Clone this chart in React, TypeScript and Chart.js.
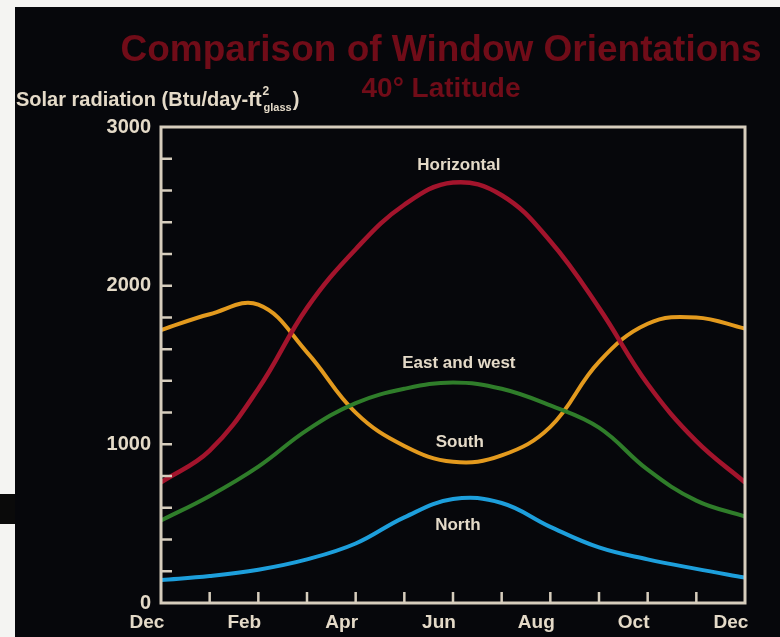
import React, { useEffect, useRef } from "react";
import { Chart, registerables } from "chart.js";

Chart.register(...registerables);

const monthLabels = ["Dec", "Jan", "Feb", "Mar", "Apr", "May", "Jun", "Jul", "Aug", "Sep", "Oct", "Nov", "Dec"];
const monthIndex = [0, 1, 2, 3, 4, 5, 6, 7, 8, 9, 10, 11, 12];

const horizontal = [760, 960, 1350, 1860, 2230, 2510, 2650, 2570, 2280, 1860, 1380, 1020, 760];
const south = [1720, 1820, 1880, 1580, 1200, 990, 890, 930, 1110, 1520, 1760, 1800, 1730];
const eastWest = [520, 675, 860, 1090, 1260, 1350, 1390, 1350, 1245, 1105, 840, 645, 545];
const north = [145, 170, 210, 275, 375, 540, 655, 630, 480, 350, 275, 215, 160];

const seriesNames = ["Horizontal", "East and west", "South", "North"];
const seriesColors = ["#a3142c", "#2f7d2a", "#e39a1e", "#1d9fdc"];
// label anchors in data coordinates [month, value]
const labelAnchors: [number, number][] = [
  [6.12, 2760],
  [6.12, 1510],
  [6.14, 1010],
  [6.1, 490],
];

const titleText = "Comparison of Window Orientations";
const subtitleText = "40\u00b0 Latitude";

const CREAM = "#e4dac8";
const FRAME = "#d6cdbd";
const TITLE_RED = "#700c18";
const FONT = '"Liberation Sans", Arial, sans-serif';

const decor = {
  id: "decor",
  afterDatasetsDraw(chart: any) {
    const { ctx, chartArea: ca, scales } = chart;
    const xs = scales.x;
    const ys = scales.y;
    ctx.save();
    ctx.strokeStyle = FRAME;
    ctx.lineWidth = 3;
    ctx.strokeRect(ca.left, ca.top, ca.right - ca.left, ca.bottom - ca.top);
    ctx.lineWidth = 2.5;
    ctx.beginPath();
    for (let v = 200; v < 3000; v += 200) {
      const py = ys.getPixelForValue(v);
      ctx.moveTo(ca.left, py);
      ctx.lineTo(ca.left + 11, py);
    }
    for (let i = 1; i < 12; i++) {
      const px = xs.getPixelForValue(i);
      ctx.moveTo(px, ca.bottom);
      ctx.lineTo(px, ca.bottom - 11);
    }
    ctx.stroke();
    ctx.restore();
  },
  afterDraw(chart: any) {
    const { ctx, scales } = chart;
    const xs = scales.x;
    const ys = scales.y;
    ctx.save();
    // title
    ctx.fillStyle = TITLE_RED;
    ctx.textAlign = "center";
    ctx.textBaseline = "middle";
    ctx.font = `bold 37px ${FONT}`;
    ctx.fillText(titleText, 426, 44);
    ctx.font = `bold 28px ${FONT}`;
    ctx.fillText(subtitleText, 426, 82);
    // y axis label
    ctx.fillStyle = CREAM;
    ctx.textAlign = "left";
    ctx.textBaseline = "alphabetic";
    const base = 99;
    let x = 1;
    ctx.font = `bold 20px ${FONT}`;
    const part1 = "Solar radiation (Btu/day-ft";
    ctx.fillText(part1, x, base);
    x += ctx.measureText(part1).width + 1;
    ctx.font = `bold 12px ${FONT}`;
    ctx.fillText("2", x, base - 11);
    ctx.font = `bold 11px ${FONT}`;
    ctx.fillText("glass", x + 1, base + 5);
    x += ctx.measureText("glass").width + 2;
    ctx.font = `bold 20px ${FONT}`;
    ctx.fillText(")", x, base);
    // curve labels
    ctx.textAlign = "center";
    ctx.textBaseline = "middle";
    ctx.font = `bold 17px ${FONT}`;
    seriesNames.forEach((name, i) => {
      const [mx, vy] = labelAnchors[i];
      ctx.fillText(name, xs.getPixelForValue(mx), ys.getPixelForValue(vy));
    });
    ctx.restore();
  },
};

export default function App() {
  const canvasRef = useRef<HTMLCanvasElement | null>(null);

  useEffect(() => {
    const canvas = canvasRef.current;
    if (!canvas) return;
    const seriesData = [horizontal, eastWest, south, north];
    const chart = new Chart(canvas, {
      type: "line",
      data: {
        datasets: seriesNames.map((name, i) => ({
          label: name,
          data: monthIndex.map((m, j) => ({ x: m, y: seriesData[i][j] })),
          borderColor: seriesColors[i],
          borderWidth: i === 0 ? 4.5 : 4,
          pointRadius: 0,
          tension: 0.4,
          fill: false,
        })),
      },
      options: {
        responsive: false,
        animation: false,
        layout: { padding: { top: 120, right: 35, left: 0, bottom: 0 } },
        plugins: {
          legend: { display: false },
          tooltip: { enabled: false },
          title: { display: false },
        },
        scales: {
          x: {
            type: "linear",
            min: 0,
            max: 12,
            grid: { display: false, drawTicks: false },
            border: { display: false },
            afterFit: (s: any) => {
              s.height = 34;
            },
            ticks: {
              stepSize: 1,
              autoSkip: false,
              maxRotation: 0,
              padding: 8,
              labelOffset: -14,
              color: CREAM,
              font: { family: FONT, size: 19, weight: "bold" },
              callback: (v: any) => {
                const i = Math.round(Number(v));
                return i % 2 === 0 ? monthLabels[i] : "";
              },
            },
          },
          y: {
            min: 0,
            max: 3000,
            grid: { display: false, drawTicks: false },
            border: { display: false },
            afterFit: (s: any) => {
              s.width = 146;
            },
            ticks: {
              stepSize: 200,
              autoSkip: false,
              padding: 10,
              color: CREAM,
              font: { family: FONT, size: 20, weight: "bold" },
              callback: (v: any) => (Number(v) % 1000 === 0 ? String(v) : ""),
            },
          },
        },
      },
      plugins: [decor],
    } as any);
    return () => chart.destroy();
  }, []);

  return (
    <div style={{ position: "fixed", left: 0, top: 0, width: 780, height: 637, background: "#f4f4f2", overflow: "hidden" }}>
      <div style={{ position: "absolute", left: 0, top: 494, width: 15, height: 30, background: "#0a0a0a" }} />
      <div style={{ position: "absolute", left: 15, top: 7, width: 765, height: 630, background: "#06070b" }}>
        <canvas ref={canvasRef} width={765} height={630} style={{ display: "block" }} />
      </div>
    </div>
  );
}
